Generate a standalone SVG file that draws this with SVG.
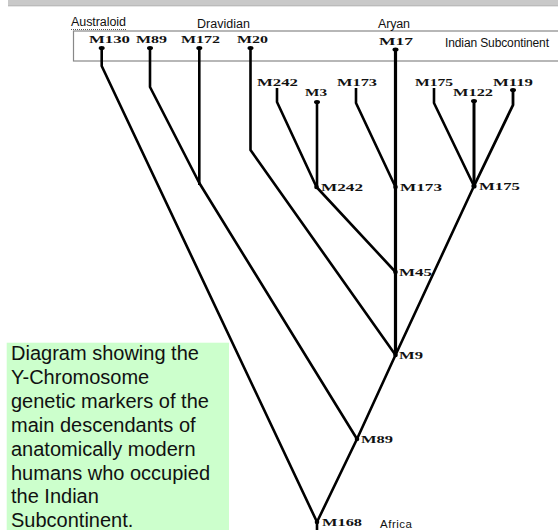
<svg xmlns="http://www.w3.org/2000/svg" width="558" height="530" viewBox="0 0 558 530">
<style>
.s{font-family:"Liberation Sans",Arial,sans-serif;fill:#111}
.m{font-family:"Liberation Serif","Times New Roman",serif;font-weight:bold;font-size:9.5px;fill:#111}
.c{fill:none;stroke:#000;stroke-width:2.6;stroke-linejoin:round;stroke-linecap:butt}
.d{fill:#000}
.cap{font-family:"Liberation Sans",Arial,sans-serif;font-size:20px;fill:#111}
</style>
<rect width="558" height="530" fill="#fff"/>
<rect x="8" y="0" width="552" height="5.5" fill="#c9c9c9"/>
<line x1="8" y1="5.8" x2="558" y2="5.8" stroke="#aaa" stroke-width="1"/>
<rect id="region" x="73.5" y="31" width="500" height="30" fill="none" stroke="#888" stroke-width="1.2"/>
<text class="s" x="71" y="26" font-size="12.5" textLength="55">Australoid</text>
<line x1="71" y1="29.5" x2="126" y2="29.5" stroke="#555" stroke-width="1" stroke-dasharray="1,1"/>
<text class="s" x="197" y="28" font-size="12.5" textLength="53">Dravidian</text>
<text class="s" x="378" y="28" font-size="12.5" textLength="32">Aryan</text>
<text class="s" x="445" y="47" font-size="12" textLength="104">Indian Subcontinent</text>
<text class="s" x="380" y="528" font-size="11.5" textLength="32">Africa</text>
<rect x="6.7" y="342.7" width="222.3" height="188" fill="#ccffcc"/>
<text class="cap">
<tspan x="11" y="360">Diagram showing the</tspan>
<tspan x="11" y="383.9">Y-Chromosome</tspan>
<tspan x="11" y="407.8">genetic markers of the</tspan>
<tspan x="11" y="431.7">main descendants of</tspan>
<tspan x="11" y="455.6">anatomically modern</tspan>
<tspan x="11" y="479.5">humans who occupied</tspan>
<tspan x="11" y="503.4">the Indian</tspan>
<tspan x="11" y="527.3">Subcontinent.</tspan>
</text>
<g id="connectors">
<polyline class="c" points="101.7,48 101.7,66 317,522 317,530"/>
<polyline class="c" points="150,48 150,87 199.3,183 357,439"/>
<polyline class="c" points="199.3,48 199.3,185"/>
<polyline class="c" points="250.5,48 250.5,150 395.5,355"/>
<polyline class="c" points="395.5,49.5 395.5,355" style="stroke-width:3.2"/>
<polyline class="c" points="277,88 277,102 316.5,187 395.5,272"/>
<polyline class="c" points="317,102 317,187"/>
<polyline class="c" points="356,88 356,103 395.5,187"/>
<polyline class="c" points="434,88 434,103 474,186"/>
<polyline class="c" points="474,101 474,186" style="stroke-width:3"/>
<polyline class="c" points="513,90 513,105 474,186" style="stroke-width:2.8"/>
<polyline class="c" points="474,186 395.5,355 357,439 317,522"/>
</g>
<g id="n-M130"><ellipse class="d" cx="101.7" cy="48" rx="3" ry="2"/><text class="m" x="89" y="43" textLength="41" lengthAdjust="spacingAndGlyphs">M130</text></g>
<g id="n-M89top"><ellipse class="d" cx="150" cy="48" rx="3" ry="2"/><text class="m" x="136" y="43" textLength="31" lengthAdjust="spacingAndGlyphs">M89</text></g>
<g id="n-M172"><ellipse class="d" cx="199.3" cy="48" rx="3" ry="2"/><text class="m" x="181" y="43" textLength="39" lengthAdjust="spacingAndGlyphs">M172</text></g>
<g id="n-M20"><ellipse class="d" cx="250.5" cy="48" rx="3" ry="2"/><text class="m" x="237" y="43" textLength="31" lengthAdjust="spacingAndGlyphs">M20</text></g>
<g id="n-M17"><ellipse class="d" cx="395.5" cy="49.5" rx="3" ry="2"/><text class="m" x="379" y="45" textLength="34" lengthAdjust="spacingAndGlyphs">M17</text></g>
<g id="n-M242tip"><text class="m" x="257" y="86" textLength="41" lengthAdjust="spacingAndGlyphs">M242</text></g>
<g id="n-M3"><ellipse class="d" cx="317" cy="102" rx="3" ry="2"/><text class="m" x="305" y="96" textLength="22" lengthAdjust="spacingAndGlyphs">M3</text></g>
<g id="n-M173tip"><text class="m" x="337" y="86" textLength="40" lengthAdjust="spacingAndGlyphs">M173</text></g>
<g id="n-M175tip"><text class="m" x="415" y="86" textLength="38" lengthAdjust="spacingAndGlyphs">M175</text></g>
<g id="n-M122"><ellipse class="d" cx="474" cy="101" rx="3" ry="2"/><text class="m" x="453" y="96" textLength="40" lengthAdjust="spacingAndGlyphs">M122</text></g>
<g id="n-M119"><ellipse class="d" cx="513" cy="90" rx="3" ry="2"/><text class="m" x="493" y="86" textLength="40" lengthAdjust="spacingAndGlyphs">M119</text></g>
<g id="n-M242"><circle class="d" cx="316.5" cy="187" r="2.3"/><text class="m" x="321" y="191" textLength="42" lengthAdjust="spacingAndGlyphs">M242</text></g>
<g id="n-M173"><circle class="d" cx="395.5" cy="187" r="2.3"/><text class="m" x="400" y="191" textLength="42" lengthAdjust="spacingAndGlyphs">M173</text></g>
<g id="n-M175"><circle class="d" cx="474" cy="186" r="2.6"/><text class="m" x="479" y="190" textLength="41" lengthAdjust="spacingAndGlyphs">M175</text></g>
<g id="n-M45"><circle class="d" cx="395.5" cy="272" r="2.3"/><text class="m" x="399" y="276" textLength="33" lengthAdjust="spacingAndGlyphs">M45</text></g>
<g id="n-M9"><circle class="d" cx="395.5" cy="355" r="2.3"/><text class="m" x="399" y="359" textLength="24" lengthAdjust="spacingAndGlyphs">M9</text></g>
<g id="n-M89"><circle class="d" cx="357" cy="439" r="2.3"/><text class="m" x="361" y="443" textLength="32" lengthAdjust="spacingAndGlyphs">M89</text></g>
<g id="n-M168"><circle class="d" cx="317" cy="522" r="2.3"/><text class="m" x="322" y="526" textLength="40" lengthAdjust="spacingAndGlyphs">M168</text></g>
</svg>
